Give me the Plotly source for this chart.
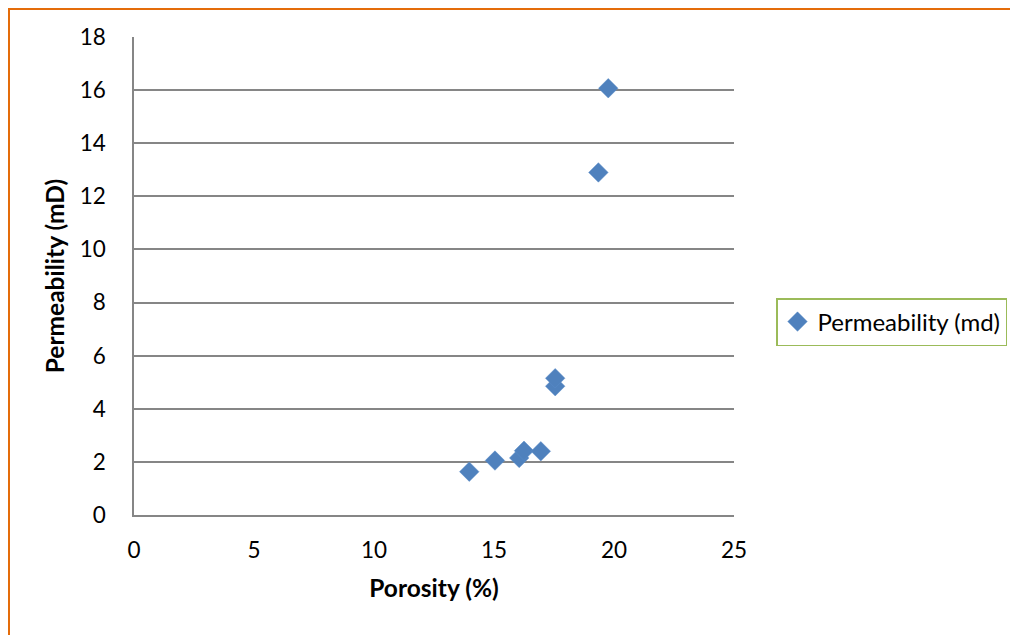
import plotly.graph_objects as go

porosity = [13.97, 15.04, 16.05, 16.25, 16.95, 17.55, 17.55, 19.35, 19.76]
permeability = [1.63, 2.05, 2.15, 2.42, 2.4, 4.85, 5.15, 12.9, 16.07]
series_name = "Permeability (md)"
x_ticks = [0, 5, 10, 15, 20, 25]
y_ticks = [0, 2, 4, 6, 8, 10, 12, 14, 16, 18]

FONT = "Lato"
OFF = 8  # page body margin
W, H = 1018, 635
L, R, T, B = 134 - OFF, 734 - OFF, 37 - OFF, 515 - OFF

fig = go.Figure()
fig.add_trace(go.Scatter(
    x=porosity, y=permeability, mode="markers", name=series_name,
    marker=dict(symbol="diamond", size=15, color="#4f81bd",
                line=dict(width=0.5, color="#5b8cc8")),
))

pw, ph = R - L, B - T
def px(x):
    return (x - OFF - L) / pw
def py(y):
    return (B - (y - OFF)) / ph

fig.update_layout(
    width=W, height=H,
    margin=dict(l=L, r=W - R, t=T, b=H - B, autoexpand=False),
    paper_bgcolor="white", plot_bgcolor="white",
    font=dict(family=FONT, size=22, color="black"),
    showlegend=True,
    legend=dict(x=px(776), y=py(322), xanchor="left", yanchor="middle",
                bordercolor="#9bbb59", borderwidth=1.5,
                font=dict(size=24, family=FONT), itemwidth=30),
    xaxis=dict(range=[0, 25], tickvals=x_ticks, showgrid=False,
               showline=True, linecolor="#868686", linewidth=1.5,
               zeroline=False, ticks="", ticklen=0, ticklabelstandoff=14,
               tickfont=dict(size=22.5),
               title=dict(text="<b>Porosity (%)</b>", font=dict(size=24.5), standoff=18)),
    yaxis=dict(range=[0, 18], tickvals=y_ticks, showgrid=True,
               gridcolor="#868686", gridwidth=1.5,
               showline=True, linecolor="#868686", linewidth=1.5,
               zeroline=False, ticks="", ticklen=0, ticklabelstandoff=22,
               tickfont=dict(size=22.5),
               title=dict(text="<b>Permeability (mD)</b>", font=dict(size=24.5), standoff=8)),
    shapes=[
        dict(type="line", xref="paper", yref="paper", x0=px(9), x1=px(9), y0=py(9), y1=py(650),
             line=dict(color="#e46c0a", width=2)),
        dict(type="line", xref="paper", yref="paper", x0=px(8), x1=px(1040), y0=py(9), y1=py(9),
             line=dict(color="#e46c0a", width=2)),
    ],
)
fig.write_html("out.html")
